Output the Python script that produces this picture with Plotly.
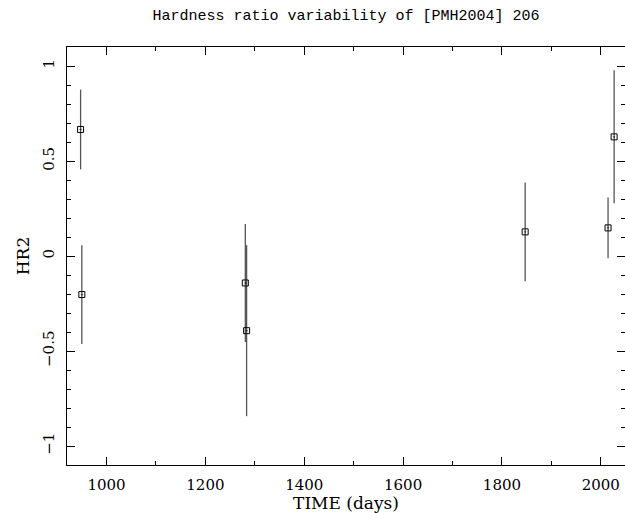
import plotly.graph_objects as go

# Data
time_days = [947.5, 950.0, 1280.8, 1283.4, 1847.0, 2014.7, 2027.0]
hr2 = [0.666, -0.203, -0.142, -0.393, 0.127, 0.148, 0.627]
hr2_err = [0.21, 0.26, 0.31, 0.45, 0.26, 0.16, 0.35]

x_ticks = [1000, 1200, 1400, 1600, 1800, 2000]
y_ticks = [-1, -0.5, 0, 0.5, 1]
y_tick_text = ["\u22121", "\u22120.5", "0", "0.5", "1"]

fig = go.Figure()
fig.add_trace(go.Scatter(
    x=time_days, y=hr2, mode="markers",
    marker=dict(symbol="square-open-dot", size=6, color="black",
                line=dict(width=1, color="black")),
    error_y=dict(type="data", array=hr2_err, visible=True,
                 thickness=1.3, width=0, color="#555555"),
    showlegend=False,
))

axis_common = dict(
    showline=True, linecolor="black", linewidth=1, mirror="allticks",
    ticks="inside", ticklen=8, tickwidth=1, tickcolor="black",
    showgrid=False, zeroline=False,
    tickfont=dict(family="DejaVu Serif", size=15, color="black"),
)

fig.update_xaxes(
    **axis_common,
    range=[920, 2049],
    tickvals=x_ticks,
    minor=dict(dtick=100, ticks="inside", ticklen=4, tickcolor="black", tickwidth=1, showgrid=False),
    title=dict(text="TIME (days)", font=dict(family="DejaVu Serif", size=17, color="black"), standoff=2),
    ticklabelstandoff=6,
)
fig.update_yaxes(
    **axis_common,
    range=[-1.1, 1.1],
    tickvals=y_ticks, ticktext=y_tick_text,
    tickangle=-90,
    minor=dict(dtick=0.1, ticks="inside", ticklen=4, tickcolor="black", tickwidth=1, showgrid=False),
    title=dict(text="HR2", font=dict(family="DejaVu Serif", size=17, color="black"), standoff=6),
    ticklabelstandoff=6,
)

fig.update_layout(
    width=625, height=513,
    margin=dict(l=67, r=0, t=47, b=48),
    paper_bgcolor="white", plot_bgcolor="white",
    title=dict(text="Hardness ratio variability of [PMH2004] 206",
               font=dict(family="Liberation Mono", size=15, color="black"),
               x=0.5, xref="paper", xanchor="center",
               y=1 - 15 / 513, yref="container", yanchor="middle"),
)

fig.write_html("out.html")
